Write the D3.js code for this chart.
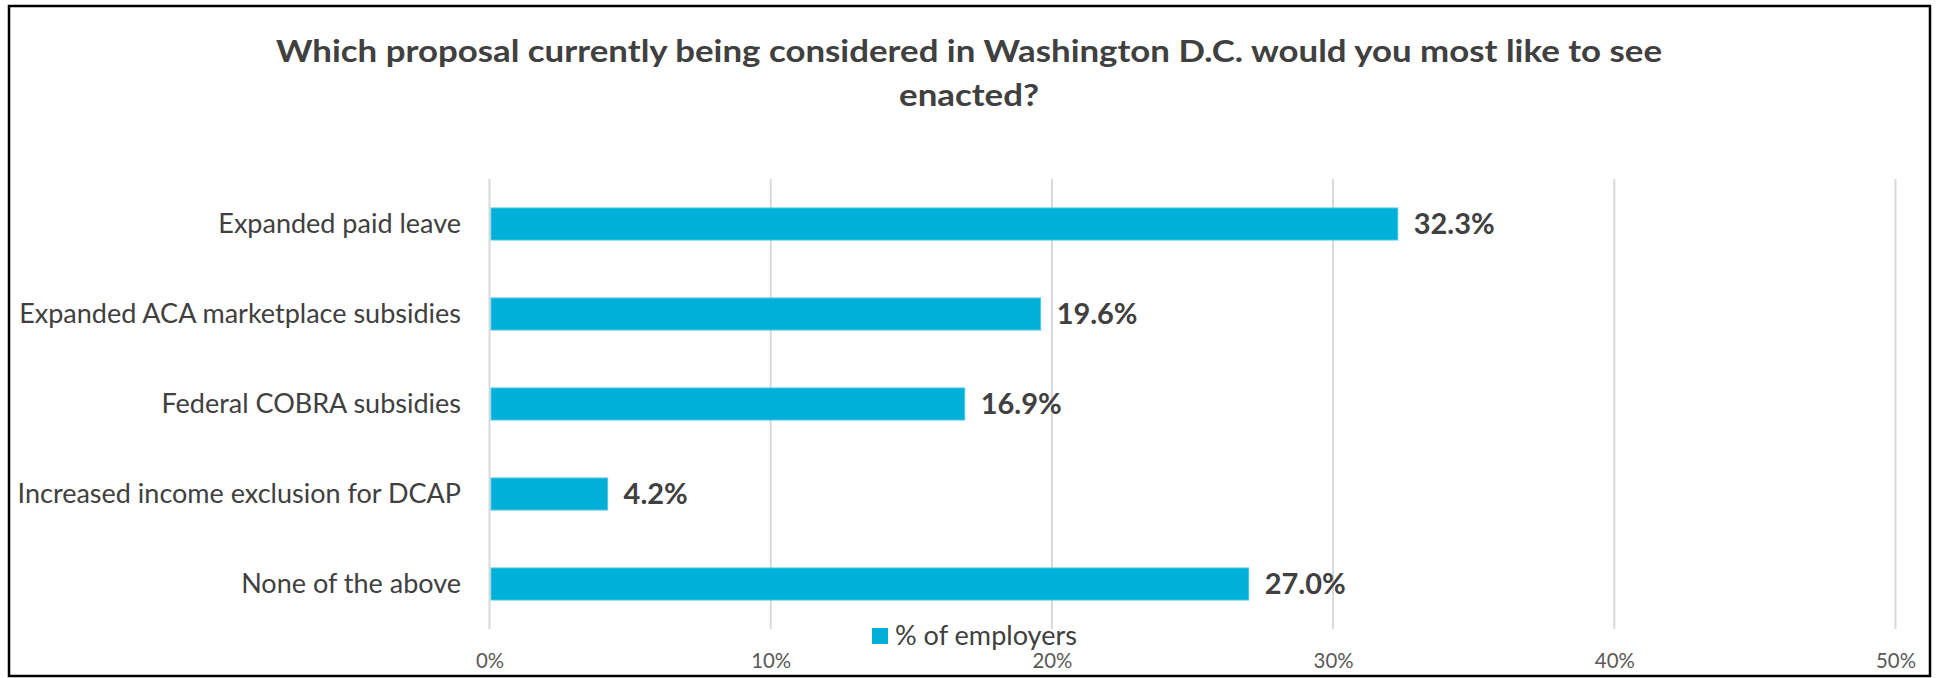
<!DOCTYPE html>
<html>
<head>
<meta charset="utf-8">
<script src="https://cdn.jsdelivr.net/npm/d3@7"></script>
<style>
  html, body { margin: 0; padding: 0; background: #fff; }
  svg { display: block; }
</style>
</head>
<body>
<svg id="chart" width="1936" height="678"></svg>
<script>
// ---- data ----
const categories = [
  "Expanded paid leave",
  "Expanded ACA marketplace subsidies",
  "Federal COBRA subsidies",
  "Increased income exclusion for DCAP",
  "None of the above"
];
const values = [32.3, 19.6, 16.9, 4.2, 27.0];
const tickValues = [0, 10, 20, 30, 40, 50];
const seriesName = "% of employers";
const titleLines = [
  "Which proposal currently being considered in Washington D.C. would you most like to see",
  "enacted?"
];

// ---- layout ----
const W = 1936, H = 678;
const FONT = "Lato, 'Open Sans', sans-serif";
const svg = d3.select("#chart");

function measure(text, weight, size) {
  const t = svg.append("text").attr("font-family", FONT).attr("font-weight", weight)
    .attr("font-size", size).text(text);
  const w = t.node().getComputedTextLength();
  t.remove();
  return w;
}
function fitSize(text, weight, targetWidth) {
  return 100 * targetWidth / measure(text, weight, 100);
}

// frame
svg.append("rect").attr("x", 9).attr("y", 6).attr("width", 1921).attr("height", 670)
  .attr("fill", "#fff").attr("stroke", "#000").attr("stroke-width", 2.5);

const x = d3.scaleLinear().domain([0, 50]).range([489.5, 1895.5]);
const y = d3.scaleBand().domain(categories).range([179, 629])
  .paddingInner(0.644).paddingOuter(0.322);

// gridlines
svg.append("g").selectAll("line").data(tickValues).join("line")
  .attr("x1", d => x(d)).attr("x2", d => x(d))
  .attr("y1", 179).attr("y2", 629)
  .attr("stroke", "#d9d9d9").attr("stroke-width", 2);

// bars
svg.append("g").selectAll("rect").data(values).join("rect")
  .attr("x", x(0) + 1.5)
  .attr("y", (d, i) => y(categories[i]))
  .attr("width", d => x(d) - x(0) - 1.5)
  .attr("height", y.bandwidth())
  .attr("fill", "#00B0D8")
  .attr("stroke", "#4FC6E4").attr("stroke-width", 1);

// category labels
const catSize = fitSize(categories[1], 400, 442);
svg.append("g").selectAll("text").data(categories).join("text")
  .attr("x", 461)
  .attr("y", d => y(d) + y.bandwidth() / 2)
  .attr("dy", "0.35em")
  .attr("text-anchor", "end")
  .attr("font-family", FONT).attr("font-size", catSize)
  .attr("fill", "#404040")
  .text(d => d);

// data labels
const fmt = d => d.toFixed(1) + "%";
const dlSize = fitSize("32.3%", 700, 81);
svg.append("g").selectAll("text").data(values).join("text")
  .attr("x", d => x(d) + 16)
  .attr("y", (d, i) => y(categories[i]) + y.bandwidth() / 2)
  .attr("dy", "0.36em")
  .attr("font-family", FONT).attr("font-weight", 700).attr("font-size", dlSize)
  .attr("fill", "#404040")
  .text(fmt);

// x axis tick labels
const tickSize = fitSize("20%", 400, 40);
const xAxis = d3.axisBottom(x).tickValues(tickValues).tickSize(0).tickPadding(0)
  .tickFormat(d => d + "%");
const gx = svg.append("g").attr("transform", "translate(0,668)").call(xAxis);
gx.select(".domain").remove();
gx.selectAll("text").attr("font-family", FONT).attr("font-size", tickSize)
  .attr("fill", "#595959").attr("dy", 0).attr("y", 0);

// legend
svg.append("rect").attr("x", 872).attr("y", 628).attr("width", 16).attr("height", 16)
  .attr("fill", "#00B0D8");
const legSize = fitSize(seriesName, 400, 182);
svg.append("text").attr("x", 895).attr("y", 636).attr("dy", "0.35em")
  .attr("font-family", FONT).attr("font-size", legSize).attr("fill", "#404040")
  .text(seriesName);

// title (taller glyphs, condensed to the reference width)
const titleSize = 31;
const ratio = 1386 / measure(titleLines[0], 700, titleSize);
svg.append("g").selectAll("text").data(titleLines).join("text")
  .attr("x", 969).attr("y", (d, i) => 62 + i * 44)
  .attr("text-anchor", "middle")
  .attr("font-family", FONT).attr("font-weight", 700).attr("font-size", titleSize)
  .attr("textLength", d => measure(d, 700, titleSize) * ratio)
  .attr("lengthAdjust", "spacingAndGlyphs")
  .attr("fill", "#404040")
  .text(d => d);
</script>
</body>
</html>
